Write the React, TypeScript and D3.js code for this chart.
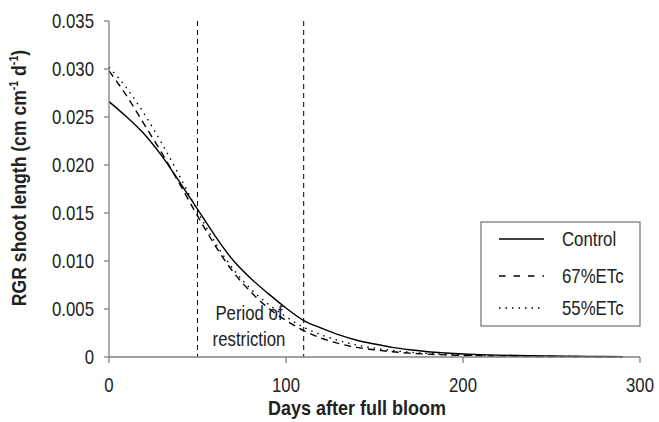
import * as d3 from "d3";
import React from "react";

// days after full bloom, every 10 days
const days = d3.range(0, 300, 10);

// RGR values (cm cm-1 d-1)
const control = [
  0.0266, 0.0250, 0.0232, 0.0209, 0.0182, 0.0154, 0.0126, 0.0101, 0.0082, 0.0066,
  0.0051, 0.0038, 0.0030, 0.0023, 0.00175, 0.00135, 0.0010, 0.00075, 0.00055, 0.00042,
  0.00032, 0.00025, 0.0002, 0.00016, 0.00013, 0.0001, 0.00008, 0.00006, 0.00005, 0.00004,
];
const etc67 = [
  0.0298, 0.0272, 0.0242, 0.0212, 0.0180, 0.0147, 0.0116, 0.0089, 0.0068, 0.0051,
  0.0038, 0.00275, 0.00195, 0.0014, 0.0010, 0.00075, 0.00055, 0.0004, 0.0003, 0.00022,
  0.00017, 0.00013, 0.0001, 0.00008, 0.00006, 0.00005, 0.00004, 0.00003, 0.00003, 0.00002,
];
const etc55 = [
  0.0302, 0.0280, 0.0253, 0.0222, 0.0188, 0.0152, 0.0119, 0.0092, 0.0071, 0.0055,
  0.0042, 0.0031, 0.0023, 0.0017, 0.00125, 0.00092, 0.00068, 0.0005, 0.00037, 0.00028,
  0.00021, 0.00016, 0.00012, 0.00009, 0.00007, 0.000055, 0.000045, 0.000035, 0.00003, 0.000025,
];

const yTicks = [0, 0.005, 0.01, 0.015, 0.02, 0.025, 0.03, 0.035];
const yTickLabels = ["0", "0.005", "0.010", "0.015", "0.020", "0.025", "0.030", "0.035"];
const xTicks = [0, 100, 200, 300];
const restriction = [50, 110];

const series = [
  { name: "Control", values: control, dash: "none" },
  { name: "67%ETc", values: etc67, dash: "7,5" },
  { name: "55%ETc", values: etc55, dash: "1.5,5" },
];

const W = 659, H = 422;
const m = { left: 109, right: 19, top: 21, bottom: 65 };
const font = "'Liberation Sans', Arial, sans-serif";
const axisColor = "#808080";
const txt = "#222";

// no narrow font installed, so squeeze the text horizontally
function NText({ x, y, anchor = "start", size = 20, bold = false, sx = 0.84, rotate = false, dy, children }: any) {
  return (
    <g transform={`translate(${x},${y})${rotate ? " rotate(-90)" : ""} scale(${sx},1)`}>
      <text
        textAnchor={anchor}
        fontSize={size}
        fontWeight={bold ? "bold" : "normal"}
        dy={dy}
        fill={txt}
      >
        {children}
      </text>
    </g>
  );
}

export default function App() {
  const x = d3.scaleLinear().domain([0, 300]).range([m.left, W - m.right]);
  const y = d3.scaleLinear().domain([0, 0.035]).range([H - m.bottom, m.top]);

  const line = d3
    .line<number>()
    .x((_, i) => x(days[i]))
    .y((d) => y(d))
    .curve(d3.curveMonotoneX);

  const y0 = y(0);

  return (
    <svg
      width={W}
      height={H}
      style={{ position: "absolute", left: 0, top: 0, background: "#fff" }}
      fontFamily={font}
    >
      {/* restriction period */}
      {restriction.map((d) => (
        <line
          key={d}
          x1={x(d)}
          x2={x(d)}
          y1={y(0.035)}
          y2={y0}
          stroke="#000"
          strokeWidth={1}
          strokeDasharray="5,4"
        />
      ))}
      <NText x={249} y={320} anchor="middle">Period of</NText>
      <NText x={249} y={346} anchor="middle">restriction</NText>

      {/* curves */}
      {series.map((s) => (
        <path
          key={s.name}
          d={line(s.values) || ""}
          fill="none"
          stroke="#000"
          strokeWidth={1.4}
          strokeDasharray={s.dash}
        />
      ))}

      {/* y axis */}
      <line x1={x(0)} x2={x(0)} y1={y(0.035)} y2={y0} stroke={axisColor} strokeWidth={1.3} />
      {yTicks.map((t, i) => (
        <g key={t}>
          <line x1={x(0) - 5} x2={x(0)} y1={y(t)} y2={y(t)} stroke={axisColor} strokeWidth={1.3} />
          <NText x={94} y={y(t)} dy="0.36em" anchor="end">
            {yTickLabels[i]}
          </NText>
        </g>
      ))}

      {/* x axis */}
      <line x1={x(0)} x2={x(300)} y1={y0} y2={y0} stroke={axisColor} strokeWidth={1.3} />
      {xTicks.map((t) => (
        <g key={t}>
          <line x1={x(t)} x2={x(t)} y1={y0} y2={y0 + 6} stroke={axisColor} strokeWidth={1.3} />
          <NText x={x(t)} y={392} anchor="middle">{t}</NText>
        </g>
      ))}

      {/* axis titles */}
      <NText x={357} y={415} size={20} bold sx={0.9} anchor="middle">
        Days after full bloom
      </NText>
      <NText x={26} y={178} size={20} bold sx={0.88} rotate anchor="middle">
        RGR shoot length (cm cm
        <tspan fontSize={12} dy={-8}>-1</tspan>
        <tspan dy={8}> d</tspan>
        <tspan fontSize={12} dy={-8}>-1</tspan>
        <tspan dy={8}>)</tspan>
      </NText>

      {/* legend */}
      <rect x={481} y={222} width={159} height={104} fill="#fff" stroke="#555" strokeWidth={1} />
      {series.map((s, i) => {
        const ly = [239, 276, 308][i];
        return (
          <g key={s.name}>
            <line
              x1={499}
              x2={544}
              y1={ly}
              y2={ly}
              stroke="#000"
              strokeWidth={1.4}
              strokeDasharray={i === 1 ? "6.5,8" : s.dash}
            />
            <NText x={562} y={ly} dy="0.36em">{s.name}</NText>
          </g>
        );
      })}
    </svg>
  );
}
